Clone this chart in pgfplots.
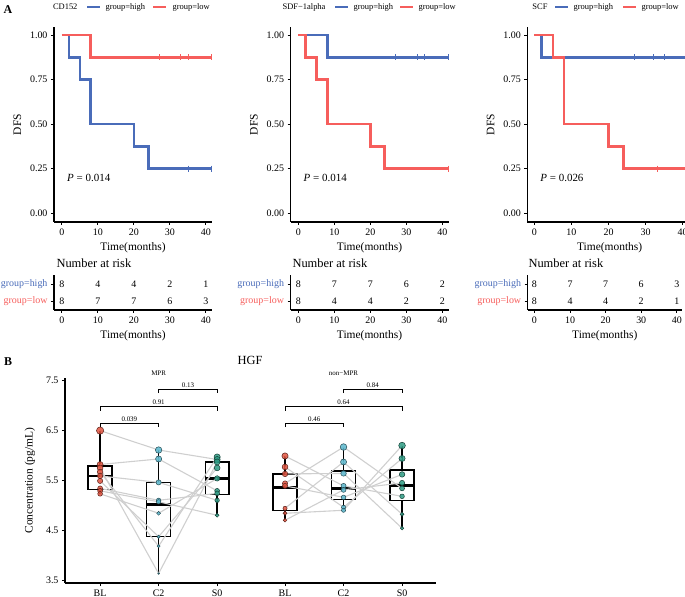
\documentclass[border=0pt]{standalone}
\usepackage{fontspec}
\setmainfont{Liberation Serif}
\usepackage{pgfplots}
\pgfplotsset{compat=1.18}
\usepgfplotslibrary{statistics}
\definecolor{KMblue}{HTML}{4A6CB9}
\definecolor{KMred}{HTML}{F65E5C}
\definecolor{BLc}{HTML}{E0533F}
\definecolor{C2c}{HTML}{5BB8CE}
\definecolor{S0c}{HTML}{2E9C84}
\definecolor{Pair}{HTML}{CFCFCF}
\pgfplotsset{
  base/.style={scale only axis, anchor=south west, axis lines=left,
    axis line style={-, line width=1.1bp, black},
    tick align=outside, major tick length=3bp,
    tick style={line width=0.9bp, black},
    tick label style={font=\fontsize{10}{12}\selectfont},
    /pgf/number format/assume math mode=true,
    label style={font=\fontsize{11.5}{13}\selectfont}},
  km/.style={base, height=195bp, ymin=-0.05, ymax=1.045, xtick={0,10,20,30,40},
    ytick={0,0.25,0.5,0.75,1}, yticklabels={0.00,0.25,0.50,0.75,1.00},
    xlabel={Time(months)}, ylabel={DFS}, ylabel style={yshift=2bp}},
  risk/.style={base, height=35bp, ymin=0.47, ymax=2.53, xtick={0,10,20,30,40}, ytick={1,2},
    yticklabels={\textcolor{KMred}{group=low},\textcolor{KMblue}{group=high}},
    xlabel={Time(months)}},
  surv/.style={const plot, line width=2.7bp, mark=none},
  cens/.style={only marks, mark=|, mark size=3bp, mark options={line width=0.5bp}},
  atrisk/.style={draw=none, mark=none, nodes near coords, point meta=explicit symbolic,
    every node near coord/.append style={anchor=center, text=black, font=\fontsize{10}{12}\selectfont}},
  pts/.style={only marks, scatter, mark=*, point meta=y,
    scatter/use mapped color={draw=#1!40!black, fill=#1},
    visualization depends on={value \thisrow{s} \as \ms},
    scatter/@pre marker code/.append style={/tikz/mark size=\ms},
    mark options={line width=0.5bp, fill opacity=0.85}},
  bx/.style={black, line width=1.3bp, boxplot/draw direction=y,
    boxplot/every median/.style={line width=2.8bp}},
  pair/.style={Pair, line width=1.1bp, mark=none},
  brk/.style={black, line width=0.6bp, mark=none},
}
\begin{document}
\begin{tikzpicture}
\useasboundingbox (0bp,0bp) rectangle (685bp,597bp);
% ---------- panel A, legends ----------
\node[font=\bfseries\fontsize{12}{14}\selectfont] at (8bp,587bp) {A};
\begin{scope}[font=\fontsize{8.5}{10}\selectfont]
\node[anchor=east] at (81bp,590bp) {CD152};
\draw[KMblue, line width=2.7bp] (87bp,590bp) -- (100bp,590bp);
\node[anchor=west] at (102bp,590bp) {group=high};
\draw[KMred, line width=2.7bp] (153bp,590bp) -- (166bp,590bp);
\node[anchor=west] at (169bp,590bp) {group=low};
\node[anchor=east] at (329bp,590bp) {SDF−1alpha};
\draw[KMblue, line width=2.7bp] (335bp,590bp) -- (348bp,590bp);
\node[anchor=west] at (350bp,590bp) {group=high};
\draw[KMred, line width=2.7bp] (400bp,590bp) -- (413bp,590bp);
\node[anchor=west] at (415bp,590bp) {group=low};
\node[anchor=east] at (551bp,590bp) {SCF};
\draw[KMblue, line width=2.7bp] (555bp,590bp) -- (568bp,590bp);
\node[anchor=west] at (570bp,590bp) {group=high};
\draw[KMred, line width=2.7bp] (623bp,590bp) -- (636bp,590bp);
\node[anchor=west] at (638bp,590bp) {group=low};
\end{scope}
% ---------- KM CD152 ----------
\begin{axis}[km, at={(54bp,375bp)}, width=158bp, xmin=-2.2, xmax=41.7]
\addplot[surv, KMblue] coordinates {(0,1) (2,0.875) (5,0.75) (8,0.5) (20,0.375) (24,0.25) (42,0.25)};
\addplot[cens, KMblue] coordinates {(35,0.25) (41.5,0.25)};
\addplot[surv, KMred] coordinates {(0,1) (8,0.875) (42,0.875)};
\addplot[cens, KMred] coordinates {(27,0.875) (33,0.875) (35,0.875) (41.5,0.875)};
\node[anchor=west, font=\fontsize{11}{13}\selectfont] at (axis cs:0.5,0.2) {\textit{P} = 0.014};
\end{axis}
% ---------- KM SDF-1alpha ----------
\begin{axis}[km, at={(290.5bp,375bp)}, width=158bp, xmin=-2.2, xmax=41.7]
\addplot[surv, KMblue] coordinates {(0,1) (8,0.875) (42,0.875)};
\addplot[cens, KMblue] coordinates {(27,0.875) (33,0.875) (35,0.875) (41.5,0.875)};
\addplot[surv, KMred] coordinates {(0,1) (2,0.875) (5,0.75) (8,0.5) (20,0.375) (24,0.25) (42,0.25)};
\addplot[cens, KMred] coordinates {(41.5,0.25)};
\node[anchor=west, font=\fontsize{11}{13}\selectfont] at (axis cs:0.5,0.2) {\textit{P} = 0.014};
\end{axis}
% ---------- KM SCF ----------
\begin{axis}[km, at={(527.3bp,375bp)}, width=164.7bp, xmin=-1.9, xmax=42.5]
\addplot[surv, KMblue] coordinates {(0,1) (2,0.875) (43,0.875)};
\addplot[cens, KMblue] coordinates {(27,0.875) (32,0.875) (35,0.875) (41,0.875)};
\addplot[surv, KMred] coordinates {(0,1) (5,0.875) (8,0.5) (20,0.375) (24,0.25) (43,0.25)};
\addplot[cens, KMred] coordinates {(33,0.25) (41,0.25)};
\node[anchor=west, font=\fontsize{11}{13}\selectfont] at (axis cs:0.7,0.2) {\textit{P} = 0.026};
\end{axis}
% ---------- number at risk ----------
\begin{scope}[font=\fontsize{12.5}{14}\selectfont]
\node[anchor=west] at (53bp,334bp) {Number at risk};
\node[anchor=west] at (289bp,334bp) {Number at risk};
\node[anchor=west] at (525bp,334bp) {Number at risk};
\end{scope}
\begin{axis}[risk, at={(54bp,287bp)}, width=158bp, xmin=-2.2, xmax=41.7]
\addplot[atrisk] table[meta=n] {
x y n
0 2 8
10 2 4
20 2 4
30 2 2
40 2 1
};
\addplot[atrisk] table[meta=n] {
x y n
0 1 8
10 1 7
20 1 7
30 1 6
40 1 3
};
\end{axis}
\begin{axis}[risk, at={(290.5bp,287bp)}, width=158bp, xmin=-2.2, xmax=41.7]
\addplot[atrisk] table[meta=n] {
x y n
0 2 8
10 2 7
20 2 7
30 2 6
40 2 2
};
\addplot[atrisk] table[meta=n] {
x y n
0 1 8
10 1 4
20 1 4
30 1 2
40 1 2
};
\end{axis}
\begin{axis}[risk, at={(527.7bp,287bp)}, width=154.1bp, xmin=-1.9, xmax=41.4]
\addplot[atrisk] table[meta=n] {
x y n
0 2 8
10 2 7
20 2 7
30 2 6
40 2 3
};
\addplot[atrisk] table[meta=n] {
x y n
0 1 8
10 1 4
20 1 4
30 1 2
40 1 1
};
\end{axis}
% ---------- panel B ----------
\node[font=\bfseries\fontsize{12}{14}\selectfont] at (8bp,235bp) {B};
\node[font=\fontsize{12.5}{14}\selectfont] at (250bp,237bp) {HGF};
\begin{axis}[base, at={(65bp,14bp)}, width=371bp, height=204.7bp,
  xmin=0.4, xmax=6.74, ymin=3.44, ymax=7.55,
  xtick={1,2,3,4.16,5.16,6.16}, xticklabels={BL,C2,S0,BL,C2,S0},
  ytick={3.5,4.5,5.5,6.5,7.5},
  yticklabel style={/pgf/number format/.cd, fixed, fixed zerofill, precision=1},
  ylabel={Concentration (pg/mL)}, ylabel style={yshift=4bp}, clip=false]
% boxes
\addplot[bx, boxplot prepared={draw position=1, lower whisker=5.23, lower quartile=5.32, median=5.59, upper quartile=5.79, upper whisker=6.50, box extend=0.41, whisker extend=0}] coordinates {};
\addplot[bx, boxplot prepared={draw position=2, lower whisker=3.63, lower quartile=4.37, median=5.02, upper quartile=5.46, upper whisker=6.11, box extend=0.41, whisker extend=0}] coordinates {};
\addplot[bx, boxplot prepared={draw position=3, lower whisker=4.80, lower quartile=5.21, median=5.54, upper quartile=5.87, upper whisker=5.97, box extend=0.41, whisker extend=0}] coordinates {};
\addplot[bx, boxplot prepared={draw position=4.16, lower whisker=4.70, lower quartile=4.90, median=5.35, upper quartile=5.63, upper whisker=5.99, box extend=0.41, whisker extend=0}] coordinates {};
\addplot[bx, boxplot prepared={draw position=5.16, lower whisker=4.90, lower quartile=5.12, median=5.34, upper quartile=5.69, upper whisker=6.17, box extend=0.41, whisker extend=0}] coordinates {};
\addplot[bx, boxplot prepared={draw position=6.16, lower whisker=4.54, lower quartile=5.09, median=5.39, upper quartile=5.71, upper whisker=6.20, box extend=0.41, whisker extend=0}] coordinates {};
% paired lines, MPR
\addplot[pair] coordinates {(1,6.50) (2,6.11) (3,5.92)};
\addplot[pair] coordinates {(1,5.82) (2,5.93) (3,5.29)};
\addplot[pair] coordinates {(1,5.75) (2,3.63) (3,5.87)};
\addplot[pair] coordinates {(1,5.67) (2,4.18) (3,5.97)};
\addplot[pair] coordinates {(1,5.59) (2,5.46) (3,5.10)};
\addplot[pair] coordinates {(1,5.49) (2,4.37) (3,5.75)};
\addplot[pair] coordinates {(1,5.34) (2,5.10) (3,5.24)};
\addplot[pair] coordinates {(1,5.29) (2,5.07) (3,4.80)};
\addplot[pair] coordinates {(1,5.23) (2,4.84) (3,5.54)};
% paired lines, non-MPR
\addplot[pair] coordinates {(4.16,5.99) (5.16,5.39) (6.16,5.18)};
\addplot[pair] coordinates {(4.16,5.77) (5.16,4.96) (6.16,5.94)};
\addplot[pair] coordinates {(4.16,5.63) (5.16,5.64) (6.16,4.54)};
\addplot[pair] coordinates {(4.16,5.44) (5.16,6.17) (6.16,5.34)};
\addplot[pair] coordinates {(4.16,5.39) (5.16,5.16) (6.16,5.62)};
\addplot[pair] coordinates {(4.16,4.94) (5.16,5.87) (6.16,4.82)};
\addplot[pair] coordinates {(4.16,4.84) (5.16,4.90) (6.16,6.20)};
\addplot[pair] coordinates {(4.16,4.70) (5.16,5.31) (6.16,5.45)};
% points
\addplot[pts=BLc] table {
x y s
1 6.50 3.65
1 5.82 2.97
1 5.75 2.90
1 5.67 2.82
1 5.59 2.74
1 5.49 2.64
1 5.34 2.49
1 5.29 2.44
1 5.23 2.38
4.16 5.99 3.14
4.16 5.77 2.92
4.16 5.63 2.78
4.16 5.44 2.59
4.16 5.39 2.54
4.16 4.94 2.09
4.16 4.84 1.99
4.16 4.70 1.85
};
\addplot[pts=C2c] table {
x y s
2 6.11 3.26
2 5.93 3.08
2 5.46 2.61
2 5.10 2.25
2 5.07 2.22
2 4.84 1.99
2 4.37 1.62
2 4.18 1.45
2 3.63 0.85
5.16 6.17 3.32
5.16 5.87 3.02
5.16 5.64 2.79
5.16 5.39 2.54
5.16 5.31 2.46
5.16 5.16 2.31
5.16 4.96 2.11
5.16 4.90 2.05
};
\addplot[pts=S0c] table {
x y s
3 5.97 3.12
3 5.92 3.07
3 5.87 3.02
3 5.75 2.90
3 5.54 2.69
3 5.29 2.44
3 5.24 2.39
3 5.10 2.25
3 4.80 1.95
6.16 6.20 3.35
6.16 5.94 3.09
6.16 5.62 2.77
6.16 5.45 2.60
6.16 5.34 2.49
6.16 5.18 2.33
6.16 4.82 1.97
6.16 4.54 1.69
};
% comparison brackets
\addplot[brk] coordinates {(1,6.57) (1,6.645) (2,6.645) (2,6.57)};
\addplot[brk] coordinates {(1,6.90) (1,6.978) (3,6.978) (3,6.90)};
\addplot[brk] coordinates {(2,7.25) (2,7.327) (3,7.327) (3,7.25)};
\addplot[brk] coordinates {(4.16,6.57) (4.16,6.645) (5.16,6.645) (5.16,6.57)};
\addplot[brk] coordinates {(4.16,6.90) (4.16,6.978) (6.16,6.978) (6.16,6.90)};
\addplot[brk] coordinates {(5.16,7.25) (5.16,7.327) (6.16,7.327) (6.16,7.25)};
\begin{scope}[font=\fontsize{7}{8}\selectfont]
\node at (axis cs:1.5,6.73) {0.039};
\node at (axis cs:2,7.06) {0.91};
\node at (axis cs:2.5,7.41) {0.13};
\node at (axis cs:4.66,6.73) {0.46};
\node at (axis cs:5.16,7.06) {0.64};
\node at (axis cs:5.66,7.41) {0.84};
\node at (axis cs:2,7.66) {MPR};
\node at (axis cs:5.16,7.66) {non−MPR};
\end{scope}
\end{axis}
\end{tikzpicture}
\end{document}
